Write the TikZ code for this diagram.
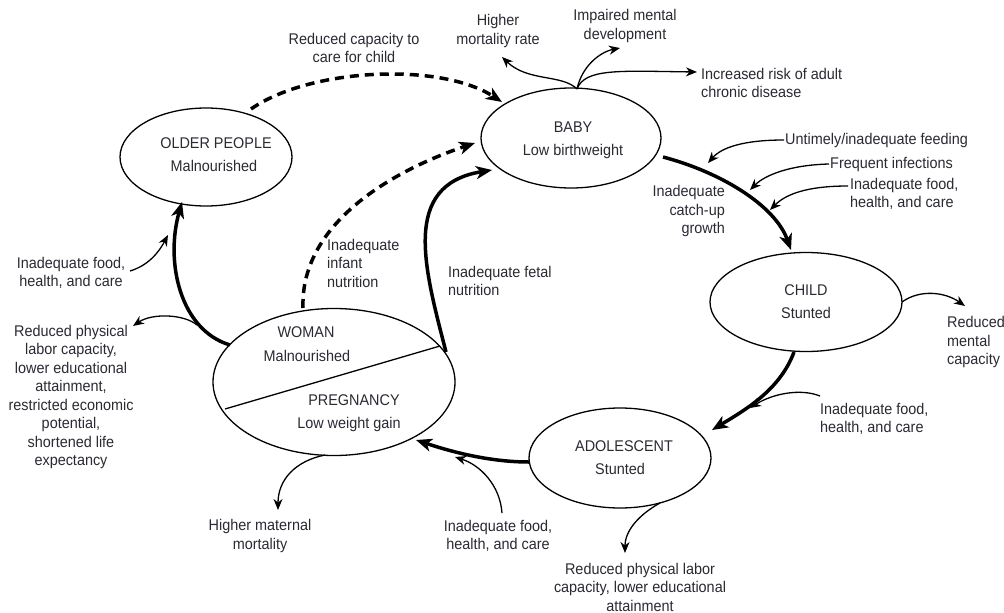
\documentclass[tikz,border=0pt]{standalone}
\usepackage{fontspec}
\setmainfont[FakeStretch=0.93]{Liberation Sans}
\usetikzlibrary{arrows.meta,shapes.geometric}
\definecolor{ink}{HTML}{2B2A33}
\tikzset{
  ell/.style={ellipse, draw=black, line width=1.3pt, inner sep=0pt},
  lbl/.style={text=ink, inner sep=1pt, font=\fontsize{15.5}{18.5}\selectfont},
  ttl/.style={text=ink, inner sep=1pt, font=\fontsize{15.5}{18}\selectfont},
  bigarrow/.style={line width=3.5pt, -{Stealth[length=16pt,width=13pt,inset=4.5pt]}},
  dasharrow/.style={line width=3.5pt, dash pattern=on 9pt off 6pt, -{Stealth[length=16pt,width=13pt,inset=4.5pt]}},
  thinarrow/.style={line width=1.3pt, -{Stealth[length=11pt,width=9pt,inset=3.5pt]}}
}
\begin{document}
\begin{tikzpicture}[x=1pt,y=-1pt]
\useasboundingbox (0,0) rectangle (1004,613);
\fill[white] (0,0) rectangle (1004,613);

% ellipses
\node[ell, minimum width=172pt, minimum height=98pt] (older) at (206,157) {};
\node[ell, minimum width=180pt, minimum height=100pt] (baby) at (571,138) {};
\node[ell, minimum width=192pt, minimum height=99pt] (child) at (806,302) {};
\node[ell, minimum width=182pt, minimum height=100pt] (adol) at (620,458) {};
\node[ell, minimum width=242pt, minimum height=147pt] (woman) at (334,382) {};
\coordinate (divA) at (225,409);
\coordinate (divB) at (440,346);
\draw[line width=1.3pt] (divA) -- (divB);

% ellipse texts
\node[ttl] (olderT1) at (216,143) {OLDER PEOPLE};
\node[ttl] (olderT2) at (214,166) {Malnourished};
\node[ttl] (babyT1) at (573,127) {BABY};
\node[ttl] (babyT2) at (573,151) {Low birthweight};
\node[ttl] (childT1) at (806,290) {CHILD};
\node[ttl] (childT2) at (806,313) {Stunted};
\node[ttl] (adolT1) at (624,446) {ADOLESCENT};
\node[ttl] (adolT2) at (620,469) {Stunted};
\node[ttl] (womanT1) at (306,332) {WOMAN};
\node[ttl] (womanT2) at (307,356) {Malnourished};
\node[ttl] (pregT1) at (354,400) {PREGNANCY};
\node[ttl] (pregT2) at (349,424) {Low weight gain};

% main cycle coordinates
\coordinate (o1) at (251,109);
\coordinate (b1) at (502,102);
\coordinate (w1) at (303,308);
\coordinate (b2) at (475,143);
\coordinate (w2) at (446,352);
\coordinate (b3) at (492,170);
\coordinate (b4) at (663,157);
\coordinate (c1) at (791,250);
\coordinate (c2) at (794,352);
\coordinate (a1) at (712,430);
\coordinate (a2) at (529,462);
\coordinate (w3) at (416,440);
\coordinate (w4) at (230,345);
\coordinate (o2) at (182,202);

\draw[dasharrow] (o1) .. controls (310,68) and (440,62) .. (b1);
\draw[dasharrow] (w1) .. controls (300,220) and (400,168) .. (b2);
\draw[bigarrow] (w2) .. controls (425,270) and (400,185) .. (b3);
\draw[bigarrow] (b4) .. controls (720,172) and (775,205) .. (c1);
\draw[bigarrow] (c2) .. controls (780,390) and (745,410) .. (a1);
\draw[bigarrow] (a2) .. controls (490,462) and (452,452) .. (w3);
\draw[bigarrow] (w4) .. controls (180,330) and (165,262) .. (o2);

% labels on the cycle
\node[lbl, align=center] (capcare) at (354,48) {Reduced capacity to\\care for child};
\node[lbl, align=left, anchor=west] (infant) at (326,263) {Inadequate\\infant\\nutrition};
\node[lbl, align=left, anchor=west] (fetal) at (447,281) {Inadequate fetal\\nutrition};
\node[lbl, align=right, anchor=east] (catchup) at (726,211) {Inadequate\\catch-up\\growth};

% baby outcomes
\coordinate (btop) at (577,89);
\node[lbl, align=center] (mort) at (498,31) {Higher\\mortality rate};
\node[lbl, align=center] (impair) at (625,26) {Impaired mental\\development};
\node[lbl, align=left, anchor=west] (chronic) at (700,83) {Increased risk of adult\\chronic disease};
\coordinate (mortE) at (502,57);
\coordinate (impE) at (620,48);
\coordinate (chrE) at (697,72);
\draw[thinarrow] (btop) .. controls (562,74) and (528,82) .. (mortE);
\draw[thinarrow] (btop) .. controls (582,66) and (600,52) .. (impE);
\draw[thinarrow] (btop) .. controls (585,68) and (620,71) .. (chrE);

% right-top influences
\node[lbl, anchor=west] (untimely) at (784,140) {Untimely/inadequate feeding};
\node[lbl, anchor=west] (infect) at (829,164) {Frequent infections};
\node[lbl, align=left, anchor=west] (foodR1) at (849,194) {Inadequate food,\\health, and care};
\coordinate (e1) at (708,163);
\coordinate (e2) at (750,190);
\coordinate (e3) at (770,210);
\draw[thinarrow] (untimely.west) .. controls (745,140) and (722,147) .. (e1);
\draw[thinarrow] (infect.west) .. controls (790,165) and (765,175) .. (e2);
\draw[thinarrow] (848,186) .. controls (805,186) and (785,195) .. (e3);

% child outcome
\node[lbl, align=left, anchor=west] (mental) at (946,342) {Reduced\\mental\\capacity};
\coordinate (cr) at (902,302);
\coordinate (mentE) at (965,306);
\draw[thinarrow] (cr) .. controls (920,289) and (945,292) .. (mentE);

% child -> adolescent influence
\node[lbl, align=left, anchor=west] (foodR2) at (819,419) {Inadequate food,\\health, and care};
\coordinate (e4) at (750,408);
\draw[thinarrow] (820,396) .. controls (800,388) and (772,394) .. (e4);

% adolescent outcome
\node[lbl, align=center] (advout) at (640,587) {Reduced physical labor\\capacity, lower educational\\attainment};
\coordinate (ab) at (660,503);
\coordinate (advE) at (625,553);
\draw[thinarrow] (ab) .. controls (640,514) and (625,530) .. (advE);

% adolescent -> woman influence
\node[lbl, align=center] (foodB) at (498,536) {Inadequate food,\\health, and care};
\coordinate (e5) at (455,457);
\draw[thinarrow] (502,513) .. controls (500,485) and (480,465) .. (e5);

% woman outcomes
\node[lbl, align=center] (matmort) at (260,536) {Higher maternal\\mortality};
\coordinate (wb) at (325,455);
\coordinate (mmE) at (278,510);
\draw[thinarrow] (wb) .. controls (295,461) and (278,480) .. (mmE);

\node[lbl, align=center] (wout) at (71,397) {Reduced physical\\labor capacity,\\lower educational\\attainment,\\restricted economic\\potential,\\shortened life\\expectancy};
\coordinate (wl) at (197,325);
\coordinate (woE) at (133,326);
\draw[thinarrow] (wl) .. controls (184,314) and (152,313) .. (woE);

% woman -> older influence
\node[lbl, align=center] (foodL) at (71,273) {Inadequate food,\\health, and care};
\coordinate (e6) at (168,235);
\draw[thinarrow] (130,271) .. controls (150,265) and (160,250) .. (e6);
\end{tikzpicture}
\end{document}
